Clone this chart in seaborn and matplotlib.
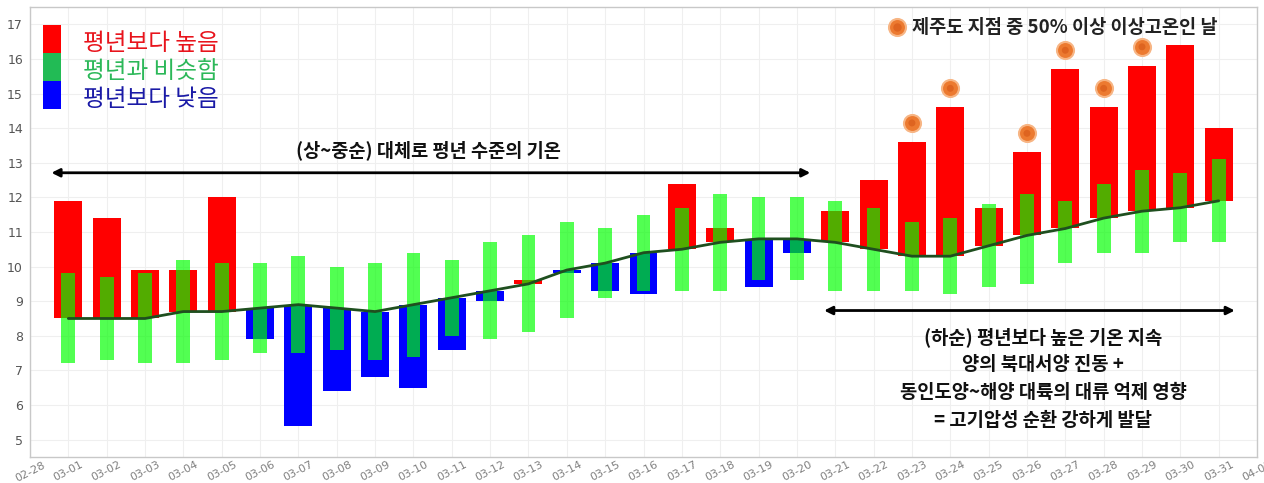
import numpy as np
import pandas as pd
import matplotlib
matplotlib.use("Agg")
import matplotlib.pyplot as plt
from matplotlib.patches import Rectangle
import seaborn as sns

# ---------------- data ----------------
dates = ["03-01", "03-02", "03-03", "03-04", "03-05", "03-06", "03-07", "03-08",
         "03-09", "03-10", "03-11", "03-12", "03-13", "03-14", "03-15", "03-16",
         "03-17", "03-18", "03-19", "03-20", "03-21", "03-22", "03-23", "03-24",
         "03-25", "03-26", "03-27", "03-28", "03-29", "03-30", "03-31"]
tick_labels = ["02-28"] + dates + ["04-01"]

observed = [11.9, 11.4, 9.9, 9.9, 12.0, 7.9, 5.4, 6.4, 6.8, 6.5, 7.6, 9.0, 9.6, 9.8,
            9.3, 9.2, 12.4, 11.1, 9.4, 10.4, 11.6, 12.5, 13.6, 14.6, 11.7, 13.3,
            15.7, 14.6, 15.8, 16.4, 14.0]
normal = [8.5, 8.5, 8.5, 8.7, 8.7, 8.8, 8.9, 8.8, 8.7, 8.9, 9.1, 9.3, 9.5, 9.9,
          10.1, 10.4, 10.5, 10.7, 10.8, 10.8, 10.7, 10.5, 10.3, 10.3, 10.6, 10.9,
          11.1, 11.4, 11.6, 11.7, 11.9]
range_high = [9.8, 9.7, 9.8, 10.2, 10.1, 10.1, 10.3, 10.0, 10.1, 10.4, 10.2, 10.7,
              10.9, 11.3, 11.1, 11.5, 11.7, 12.1, 12.0, 12.0, 11.9, 11.7, 11.3, 11.4,
              11.8, 12.1, 11.9, 12.4, 12.8, 12.7, 13.1]
range_low = [7.2, 7.3, 7.2, 7.2, 7.3, 7.5, 7.5, 7.6, 7.3, 7.4, 8.0, 7.9, 8.1, 8.5,
             9.1, 9.3, 9.3, 9.3, 9.6, 9.6, 9.3, 9.3, 9.3, 9.2, 9.4, 9.5, 10.1, 10.4,
             10.4, 10.7, 10.7]
# days when >=50% of Jeju stations recorded abnormally high temperature
jeju_hot = ["03-23", "03-24", "03-26", "03-27", "03-28", "03-29"]

legend_labels = ["평년보다 높음", "평년과 비슷함", "평년보다 낮음"]
dot_label = "제주도 지점 중 50% 이상 이상고온인 날"
note_top = "(상~중순) 대체로 평년 수준의 기온"
note_bottom = ["(하순) 평년보다 높은 기온 지속", "양의 북대서양 진동 +",
               "동인도양~해양 대륙의 대류 억제 영향", "= 고기압성 순환 강하게 발달"]

# ---------------- style ----------------
sns.set_style("white")
plt.rcParams["font.family"] = ["Noto Sans CJK KR", "DejaVu Sans"]
plt.rcParams["axes.unicode_minus"] = False

df = pd.DataFrame({"date": dates, "obs": observed, "normal": normal,
                   "high": range_high, "low": range_low})
df["x"] = np.arange(1, len(dates) + 1)
df["anom"] = df["obs"] - df["normal"]

RED = "#ff0000"
BLUE = "#0000ff"
GREEN = (0.0, 1.0, 0.0)
DOT = "#ec7a30"
DOT_EDGE = "#f7b584"
DOT_IN = "#de6420"

fig = plt.figure(figsize=(12.64, 4.83), dpi=100)
ax = fig.add_axes([0.0237, 0.054, 0.9708, 0.9315])

# anomaly bars (observed vs normal)
bar_colors = [RED if a >= 0 else BLUE for a in df["anom"]]
ax.bar(df["x"], df["anom"], bottom=df["normal"], width=0.73, color=bar_colors,
       zorder=2, linewidth=0)
# normal range bars
ax.bar(df["x"], df["high"] - df["low"], bottom=df["low"], width=0.36, color=GREEN,
       alpha=0.68, zorder=3, linewidth=0)
# normal line
sns.lineplot(x=df["x"], y=df["normal"], color="#1f4f1f", lw=2.0, ax=ax, zorder=4)

# Jeju hot days markers
hot = df[df["date"].isin(jeju_hot)]
sns.scatterplot(x=hot["x"], y=hot["obs"] + 0.55, s=150, color=DOT,
                edgecolor=DOT_EDGE, linewidth=1.5, ax=ax, zorder=5)
sns.scatterplot(x=hot["x"], y=hot["obs"] + 0.55, s=25, color=DOT_IN,
                edgecolor="none", ax=ax, zorder=6)

# axes
ax.set_xlim(0, len(dates) + 1)
ax.set_ylim(4.5, 17.5)
ax.set_xticks(np.arange(0, len(dates) + 2))
ax.set_xticklabels(tick_labels, rotation=27, ha="center", fontsize=8,
                   color="#808080", family="DejaVu Sans")
ax.set_yticks(np.arange(5, 18))
ax.set_yticklabels([str(v) for v in range(5, 18)], fontsize=9, color="#555555",
                   family="DejaVu Sans")
ax.tick_params(axis="both", length=3, color="#999999", pad=2)
ax.tick_params(axis="x", length=2, pad=0)
ax.set_xlabel("")
ax.set_ylabel("")
ax.grid(True, color="#efefef", lw=0.8, zorder=0)
ax.set_axisbelow(True)
for s in ax.spines.values():
    s.set_color("#c8c8c8")
    s.set_linewidth(1.0)

# legend (top-left)
cols = [RED, "#22bb55", BLUE]
txt_cols = ["#e8141c", "#2cb859", "#1a1aa6"]
top = 0.96
h = 0.0625
for i, (c, tc, lab) in enumerate(zip(cols, txt_cols, legend_labels)):
    ax.add_patch(Rectangle((0.0105, top - (i + 1) * h), 0.0148, h,
                           transform=ax.transAxes, color=c, zorder=7, lw=0))
    ax.text(0.043, top - (i + 0.5) * h - 0.009, lab, transform=ax.transAxes,
            color=tc, fontsize=17, va="center", ha="left", zorder=7)

# dot legend (top-right)
ax.scatter([22.6], [16.92], s=150, color=DOT, edgecolor=DOT_EDGE,
           linewidth=1.5, zorder=7)
ax.scatter([22.6], [16.92], s=25, color=DOT_IN, zorder=8)
ax.text(23.0, 16.92, dot_label, fontsize=13.4, fontweight="bold", va="center",
        ha="left", color="#222222", zorder=7)

# arrows and annotations
ax.annotate("", xy=(0.56, 12.71), xytext=(20.35, 12.71),
            arrowprops=dict(arrowstyle="<|-|>", color="black", lw=2,
                            mutation_scale=12, shrinkA=0, shrinkB=0), zorder=7)
ax.text(10.4, 13.37, note_top, fontsize=13.4, fontweight="bold", ha="center",
        va="center", color="#111111", zorder=7)

ax.annotate("", xy=(20.71, 8.73), xytext=(31.42, 8.73),
            arrowprops=dict(arrowstyle="<|-|>", color="black", lw=2,
                            mutation_scale=12, shrinkA=0, shrinkB=0), zorder=7)
for yv, line in zip([7.95, 7.17, 6.37, 5.56], note_bottom):
    ax.text(26.42, yv, line, fontsize=13.5, fontweight="bold", ha="center",
            va="center", color="#111111", zorder=7)

fig.savefig("out.png", dpi=100)
